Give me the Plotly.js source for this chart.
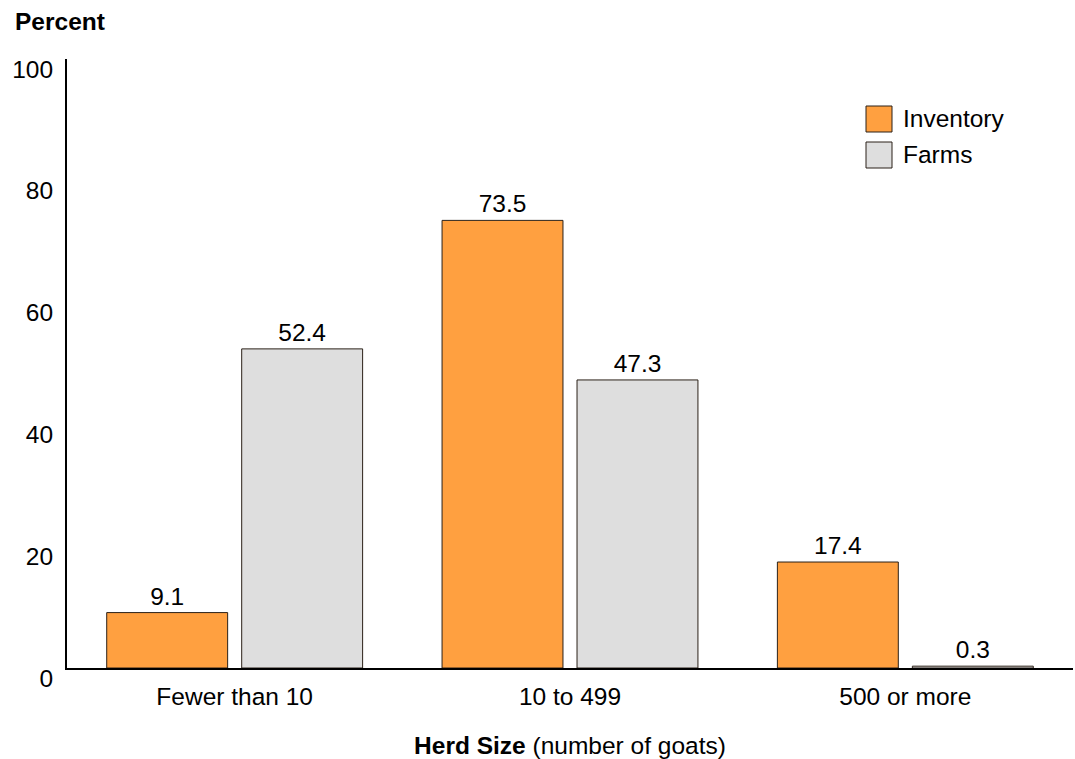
<!DOCTYPE html>
<html>
<head>
<meta charset="utf-8">
<script src="https://cdn.plot.ly/plotly-3.0.1.min.js"></script>
<style>html,body{margin:0;padding:0;background:#fff;}#chart{width:1075px;height:759px;}</style>
</head>
<body>
<div id="chart"></div>
<script>
const categories = ["Fewer than 10", "10 to 499", "500 or more"];
const seriesNames = ["Inventory", "Farms"];
const inventory = [9.1, 73.5, 17.4];
const farms = [52.4, 47.3, 0.3];
const yTicks = [0, 20, 40, 60, 80, 100];

const colors = ["#FFA040", "#DEDEDE"];
const FONT = "Liberation Sans, Arial, sans-serif";
const FS = 24.5;

function barTrace(name, vals, color) {
  return {
    type: "bar", name: name, x: categories, y: vals,
    marker: {color: color, line: {color: "#2b2118", width: 1}},
    text: vals.map(v => v.toFixed(1)), textposition: "outside",
    textfont: {family: FONT, size: FS, color: "#000"},
    cliponaxis: false, showlegend: false, hoverinfo: "x+y+name"
  };
}

const data = [barTrace(seriesNames[0], inventory, colors[0]), barTrace(seriesNames[1], farms, colors[1])];

const W = 1075, H = 759, L = 67, R = 2, T = 59, B = 91;
const pw = W - L - R, ph = H - T - B;
const px = x => (x - L) / pw;
const py = y => (H - B - y) / ph;

const shapes = [], annotations = [];
const legendRows = [{top: 106}, {top: 142}];
legendRows.forEach((r, i) => {
  shapes.push({type: "rect", xref: "paper", yref: "paper",
    x0: px(866), x1: px(892), y0: py(r.top + 26), y1: py(r.top),
    fillcolor: colors[i], line: {color: "#2b2118", width: 1}});
  annotations.push({xref: "paper", yref: "paper", x: px(901), y: py(r.top + 12),
    xanchor: "left", yanchor: "middle", showarrow: false, text: seriesNames[i],
    font: {family: FONT, size: FS, color: "#000"}});
});

const layout = {
  width: W, height: H,
  margin: {l: L, r: R, t: T, b: B, pad: 0},
  paper_bgcolor: "#fff", plot_bgcolor: "#fff",
  font: {family: FONT, size: FS, color: "#000"},
  title: {text: "<b>Percent</b>", xref: "container", yref: "container",
    x: 15 / W, xanchor: "left", y: 1 - 21 / H, yanchor: "middle",
    font: {family: FONT, size: FS, color: "#000"}},
  barmode: "group", bargap: 0.195, bargroupgap: 0.104,
  xaxis: {
    type: "category", showgrid: false, zeroline: false,
    showline: true, linecolor: "#000", linewidth: 2, ticks: "",
    tickfont: {family: FONT, size: FS, color: "#000"},
    ticklabelstandoff: 6,
    title: {text: "<b>Herd Size</b> (number of goats)", standoff: 28,
      font: {family: FONT, size: FS, color: "#000"}},
    fixedrange: true
  },
  yaxis: {
    range: [0, 100], tickvals: yTicks, ticktext: yTicks.map(String),
    showgrid: false, zeroline: false, showline: true, linecolor: "#000", linewidth: 2,
    ticks: "", tickfont: {family: FONT, size: FS, color: "#000"},
    ticklabelshift: 10, ticklabelstandoff: 7, fixedrange: true
  },
  shapes: shapes, annotations: annotations,
  showlegend: false
};

Plotly.newPlot("chart", data, layout, {displayModeBar: false, staticPlot: true});
</script>
</body>
</html>
